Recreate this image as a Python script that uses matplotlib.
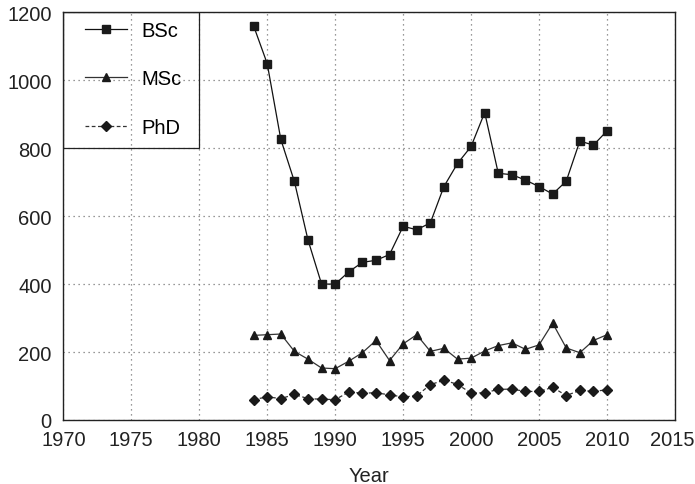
import matplotlib
matplotlib.use("Agg")
import matplotlib.pyplot as plt
from matplotlib.patches import Rectangle
from matplotlib.transforms import ScaledTranslation

years = list(range(1984, 2011))
bsc = [1160, 1049, 826, 702, 530, 400, 400, 436, 464, 470, 487, 570, 560, 580,
       687, 755, 805, 905, 726, 722, 706, 687, 665, 703, 821, 809, 851]
msc = [249, 251, 253, 202, 179, 153, 151, 173, 198, 234, 175, 224, 251, 202,
       211, 179, 182, 203, 219, 227, 208, 221, 285, 212, 198, 234, 251]
phd = [60, 68, 63, 75, 63, 61, 60, 82, 79, 80, 74, 68, 71, 104,
       117, 105, 79, 80, 90, 91, 84, 84, 96, 72, 87, 84, 89]

xticks = [1970, 1975, 1980, 1985, 1990, 1995, 2000, 2005, 2010, 2015]
yticks = [0, 200, 400, 600, 800, 1000, 1200]

plt.rcParams['font.family'] = ['Liberation Sans', 'DejaVu Sans']
FS = 14.5

fig = plt.figure(figsize=(6.95, 4.85), dpi=100)
ax = fig.add_axes([0.0911, 0.1320, 0.8801, 0.8406])

ax.plot(years, bsc, color='#111111', lw=0.9, marker='s', ms=5.3,
        mfc='#1a1a1a', mec='#1a1a1a', label='BSc', zorder=3)
ax.plot(years, msc, color='#333333', lw=0.9, marker='^', ms=6.0,
        mfc='#1a1a1a', mec='#1a1a1a', label='MSc', zorder=3)
ax.plot(years, phd, color='#333333', lw=0.9, ls=(0, (3, 2)), marker='D', ms=4.6,
        mfc='#1a1a1a', mec='#1a1a1a', label='PhD', zorder=3)

ax.set_xlim(1970, 2015)
ax.set_ylim(0, 1200)
ax.set_xticks(xticks)
ax.set_yticks(yticks)
ax.tick_params(length=0, labelsize=FS, colors='#222222')
ax.tick_params(axis='x', pad=7.5)
ax.tick_params(axis='y', pad=8.5)
ax.grid(True, color='#777777', lw=0.9, ls=(0, (1, 3)))
ax.set_xlabel('Year', fontsize=FS, color='#222222', va='baseline')
ax.xaxis.set_label_coords(0.5, (421 - 482) / 408)

# keep the last x label inside the canvas
last = ax.get_xticklabels()[-1]
last.set_transform(last.get_transform() + ScaledTranslation(-3 / 100, 0, fig.dpi_scale_trans))

for s in ax.spines.values():
    s.set_linewidth(1.0)
    s.set_color('#222222')

# legend frame
ax.add_patch(Rectangle((0, 2 / 3), 10 / 45, 1 / 3, transform=ax.transAxes,
                       fill=False, ec='#222222', lw=0.9, zorder=4))
ax.legend(loc='upper left', bbox_to_anchor=(0.0355, 0.978), frameon=False,
          borderpad=0, borderaxespad=0, fontsize=FS, handlelength=2.1,
          handletextpad=0.7, labelspacing=1.45, numpoints=1)

fig.savefig('out.png', dpi=100)
